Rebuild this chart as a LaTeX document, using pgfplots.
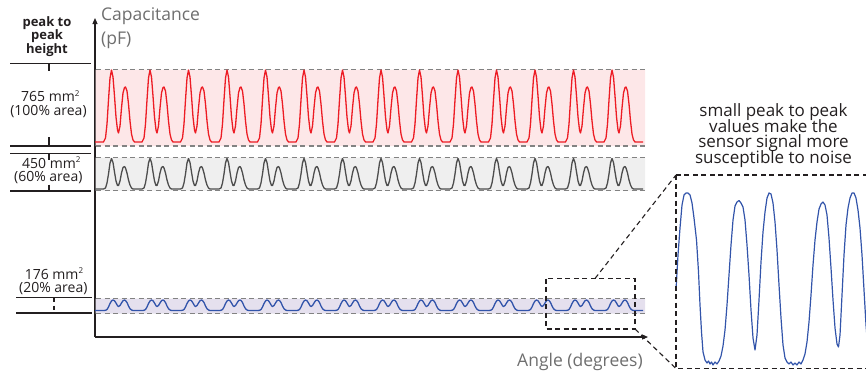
\documentclass[border=0pt]{standalone}
\usepackage{pgfplots}
\pgfplotsset{compat=1.18}
\usepackage{pgfplotstable}
\usepackage{fontspec}
\setmainfont{Open Sans}
\usetikzlibrary{arrows.meta}

\definecolor{redline}{RGB}{237,28,36}
\definecolor{redfill}{RGB}{253,231,232}
\definecolor{grayline}{RGB}{77,77,77}
\definecolor{grayfill}{RGB}{239,239,239}
\definecolor{blueline}{RGB}{50,84,170}
\definecolor{bluefill}{RGB}{229,224,238}
\definecolor{dashgray}{RGB}{130,130,130}
\definecolor{textgray}{RGB}{110,110,110}
\definecolor{ink}{RGB}{35,31,32}

% capacitance signals (x = angle position, y = capacitance level) for the three areas
\pgfplotstableread[row sep=\\]{
x red gray blue\\
95 233 186 64.5\\
103.5 233 186 64.5\\ 105.5 237 187 64.7\\ 107 251 192 65.5\\ 108.5 275 201 68\\ 110 297 212 71.5\\ 111.5 305 216.5 74\\ 113 298 212.5 75\\ 114.5 279 203 74.3\\ 116 258 194 72\\ 117.5 245 189.5 69.3\\ 118.5 242 189.5 68.5\\ 120 249 194 69.5\\ 121.5 267 202 72\\ 123 282 207.5 74.3\\ 124.5 287.5 208.5 75\\ 125.5 288 207 74.5\\ 127 284 202 72.5\\ 128.5 271 195 69\\ 130 254 190 66.3\\ 131.5 241 187 65\\ 133 235 186 64.5\\ 134.5 233 186 64.5\\
142 233 186 64.5\\ 144 237 187 64.7\\ 145.5 251 192 65.5\\ 147 275 201 68\\ 148.5 297 212 71.5\\ 150 305 216.5 74\\ 151.5 298 212.5 75\\ 153 279 203 74.3\\ 154.5 258 194 72\\ 156 245 189.5 69.3\\ 157 242 189.5 68.5\\ 158.5 249 194 69.5\\ 160 267 202 72\\ 161.5 282 207.5 74.3\\ 163 287.5 208.5 75\\ 164 288 207 74.5\\ 165.5 284 202 72.5\\ 167 271 195 69\\ 168.5 254 190 66.3\\ 170 241 187 65\\ 171.5 235 186 64.5\\ 173 233 186 64.5\\
180.5 233 186 64.5\\ 182.5 237 187 64.7\\ 184 251 192 65.5\\ 185.5 275 201 68\\ 187 297 212 71.5\\ 188.5 305 216.5 74\\ 190 298 212.5 75\\ 191.5 279 203 74.3\\ 193 258 194 72\\ 194.5 245 189.5 69.3\\ 195.5 242 189.5 68.5\\ 197 249 194 69.5\\ 198.5 267 202 72\\ 200 282 207.5 74.3\\ 201.5 287.5 208.5 75\\ 202.5 288 207 74.5\\ 204 284 202 72.5\\ 205.5 271 195 69\\ 207 254 190 66.3\\ 208.5 241 187 65\\ 210 235 186 64.5\\ 211.5 233 186 64.5\\
219 233 186 64.5\\ 221 237 187 64.7\\ 222.5 251 192 65.5\\ 224 275 201 68\\ 225.5 297 212 71.5\\ 227 305 216.5 74\\ 228.5 298 212.5 75\\ 230 279 203 74.3\\ 231.5 258 194 72\\ 233 245 189.5 69.3\\ 234 242 189.5 68.5\\ 235.5 249 194 69.5\\ 237 267 202 72\\ 238.5 282 207.5 74.3\\ 240 287.5 208.5 75\\ 241 288 207 74.5\\ 242.5 284 202 72.5\\ 244 271 195 69\\ 245.5 254 190 66.3\\ 247 241 187 65\\ 248.5 235 186 64.5\\ 250 233 186 64.5\\
257.5 233 186 64.5\\ 259.5 237 187 64.7\\ 261 251 192 65.5\\ 262.5 275 201 68\\ 264 297 212 71.5\\ 265.5 305 216.5 74\\ 267 298 212.5 75\\ 268.5 279 203 74.3\\ 270 258 194 72\\ 271.5 245 189.5 69.3\\ 272.5 242 189.5 68.5\\ 274 249 194 69.5\\ 275.5 267 202 72\\ 277 282 207.5 74.3\\ 278.5 287.5 208.5 75\\ 279.5 288 207 74.5\\ 281 284 202 72.5\\ 282.5 271 195 69\\ 284 254 190 66.3\\ 285.5 241 187 65\\ 287 235 186 64.5\\ 288.5 233 186 64.5\\
296 233 186 64.5\\ 298 237 187 64.7\\ 299.5 251 192 65.5\\ 301 275 201 68\\ 302.5 297 212 71.5\\ 304 305 216.5 74\\ 305.5 298 212.5 75\\ 307 279 203 74.3\\ 308.5 258 194 72\\ 310 245 189.5 69.3\\ 311 242 189.5 68.5\\ 312.5 249 194 69.5\\ 314 267 202 72\\ 315.5 282 207.5 74.3\\ 317 287.5 208.5 75\\ 318 288 207 74.5\\ 319.5 284 202 72.5\\ 321 271 195 69\\ 322.5 254 190 66.3\\ 324 241 187 65\\ 325.5 235 186 64.5\\ 327 233 186 64.5\\
334.5 233 186 64.5\\ 336.5 237 187 64.7\\ 338 251 192 65.5\\ 339.5 275 201 68\\ 341 297 212 71.5\\ 342.5 305 216.5 74\\ 344 298 212.5 75\\ 345.5 279 203 74.3\\ 347 258 194 72\\ 348.5 245 189.5 69.3\\ 349.5 242 189.5 68.5\\ 351 249 194 69.5\\ 352.5 267 202 72\\ 354 282 207.5 74.3\\ 355.5 287.5 208.5 75\\ 356.5 288 207 74.5\\ 358 284 202 72.5\\ 359.5 271 195 69\\ 361 254 190 66.3\\ 362.5 241 187 65\\ 364 235 186 64.5\\ 365.5 233 186 64.5\\
373 233 186 64.5\\ 375 237 187 64.7\\ 376.5 251 192 65.5\\ 378 275 201 68\\ 379.5 297 212 71.5\\ 381 305 216.5 74\\ 382.5 298 212.5 75\\ 384 279 203 74.3\\ 385.5 258 194 72\\ 387 245 189.5 69.3\\ 388 242 189.5 68.5\\ 389.5 249 194 69.5\\ 391 267 202 72\\ 392.5 282 207.5 74.3\\ 394 287.5 208.5 75\\ 395 288 207 74.5\\ 396.5 284 202 72.5\\ 398 271 195 69\\ 399.5 254 190 66.3\\ 401 241 187 65\\ 402.5 235 186 64.5\\ 404 233 186 64.5\\
411.5 233 186 64.5\\ 413.5 237 187 64.7\\ 415 251 192 65.5\\ 416.5 275 201 68\\ 418 297 212 71.5\\ 419.5 305 216.5 74\\ 421 298 212.5 75\\ 422.5 279 203 74.3\\ 424 258 194 72\\ 425.5 245 189.5 69.3\\ 426.5 242 189.5 68.5\\ 428 249 194 69.5\\ 429.5 267 202 72\\ 431 282 207.5 74.3\\ 432.5 287.5 208.5 75\\ 433.5 288 207 74.5\\ 435 284 202 72.5\\ 436.5 271 195 69\\ 438 254 190 66.3\\ 439.5 241 187 65\\ 441 235 186 64.5\\ 442.5 233 186 64.5\\
450 233 186 64.5\\ 452 237 187 64.7\\ 453.5 251 192 65.5\\ 455 275 201 68\\ 456.5 297 212 71.5\\ 458 305 216.5 74\\ 459.5 298 212.5 75\\ 461 279 203 74.3\\ 462.5 258 194 72\\ 464 245 189.5 69.3\\ 465 242 189.5 68.5\\ 466.5 249 194 69.5\\ 468 267 202 72\\ 469.5 282 207.5 74.3\\ 471 287.5 208.5 75\\ 472 288 207 74.5\\ 473.5 284 202 72.5\\ 475 271 195 69\\ 476.5 254 190 66.3\\ 478 241 187 65\\ 479.5 235 186 64.5\\ 481 233 186 64.5\\
488.5 233 186 64.5\\ 490.5 237 187 64.7\\ 492 251 192 65.5\\ 493.5 275 201 68\\ 495 297 212 71.5\\ 496.5 305 216.5 74\\ 498 298 212.5 75\\ 499.5 279 203 74.3\\ 501 258 194 72\\ 502.5 245 189.5 69.3\\ 503.5 242 189.5 68.5\\ 505 249 194 69.5\\ 506.5 267 202 72\\ 508 282 207.5 74.3\\ 509.5 287.5 208.5 75\\ 510.5 288 207 74.5\\ 512 284 202 72.5\\ 513.5 271 195 69\\ 515 254 190 66.3\\ 516.5 241 187 65\\ 518 235 186 64.5\\ 519.5 233 186 64.5\\
527 233 186 64.5\\ 529 237 187 64.7\\ 530.5 251 192 65.5\\ 532 275 201 68\\ 533.5 297 212 71.5\\ 535 305 216.5 74\\ 536.5 298 212.5 75\\ 538 279 203 74.3\\ 539.5 258 194 72\\ 541 245 189.5 69.3\\ 542 242 189.5 68.5\\ 543.5 249 194 69.5\\ 545 267 202 72\\ 546.5 282 207.5 74.3\\ 548 287.5 208.5 75\\ 549 288 207 74.5\\ 550.5 284 202 72.5\\ 552 271 195 69\\ 553.5 254 190 66.3\\ 555 241 187 65\\ 556.5 235 186 64.5\\ 558 233 186 64.5\\
565.5 233 186 64.5\\ 567.5 237 187 64.7\\ 569 251 192 65.5\\ 570.5 275 201 68\\ 572 297 212 71.5\\ 573.5 305 216.5 74\\ 575 298 212.5 75\\ 576.5 279 203 74.3\\ 578 258 194 72\\ 579.5 245 189.5 69.3\\ 580.5 242 189.5 68.5\\ 582 249 194 69.5\\ 583.5 267 202 72\\ 585 282 207.5 74.3\\ 586.5 287.5 208.5 75\\ 587.5 288 207 74.5\\ 589 284 202 72.5\\ 590.5 271 195 69\\ 592 254 190 66.3\\ 593.5 241 187 65\\ 595 235 186 64.5\\ 596.5 233 186 64.5\\
604 233 186 64.5\\ 606 237 187 64.7\\ 607.5 251 192 65.5\\ 609 275 201 68\\ 610.5 297 212 71.5\\ 612 305 216.5 74\\ 613.5 298 212.5 75\\ 615 279 203 74.3\\ 616.5 258 194 72\\ 618 245 189.5 69.3\\ 619 242 189.5 68.5\\ 620.5 249 194 69.5\\ 622 267 202 72\\ 623.5 282 207.5 74.3\\ 625 287.5 208.5 75\\ 626 288 207 74.5\\ 627.5 284 202 72.5\\ 629 271 195 69\\ 630.5 254 190 66.3\\ 632 241 187 65\\ 633.5 235 186 64.5\\ 635 233 186 64.5\\
643 233 186 64.5\\
}\signals

% zoomed (noisy) view of the 20% area signal
\pgfplotstableread[row sep=\\]{
x y\\
676 85\\ 678 120\\ 680 147\\ 682 170\\ 684 180\\ 686 182\\ 688 182\\ 690 180\\ 692 172\\ 694 157\\
696.5 135\\ 698.5 103\\ 700 70\\ 701.5 43\\ 703 23\\ 705 15\\ 707 12\\ 708.5 14\\ 710 11\\ 711.5 13\\
713 10\\ 715 13\\ 717 11\\ 719 14\\ 721 19\\ 723 29\\ 725 45\\ 727 70\\ 729 100\\ 731 130\\
733 155\\ 735 169\\ 737 173\\ 739 174.5\\ 741 172\\ 743 168\\ 745 155\\ 747 130\\ 749 100\\ 751 65\\
753 37\\ 755 25\\ 757 40\\ 759 75\\ 761 113\\ 763 143\\ 765 163\\ 767 177\\ 769 182\\ 771 181\\
773 172\\ 775 153\\ 777 125\\ 779 90\\ 781 57\\ 783 30\\ 785 17\\ 787 13\\ 789 11\\ 791 13\\
793 10\\ 795 12\\ 797 10\\ 799 13\\ 801 11\\ 803 15\\ 805 21\\ 807 33\\ 809 53\\ 811 80\\
813 110\\ 815 135\\ 817 153\\ 819 166\\ 821 171\\ 823 173\\ 825 170\\ 827 160\\ 829 137\\ 831 107\\
833 75\\ 835 47\\ 837 31\\ 838.5 28\\ 840 40\\ 842 80\\ 844 120\\ 846 150\\ 848 167\\ 850 177\\
852 182\\ 854 182\\ 856 177\\ 858 165\\ 860 147\\ 862 120\\ 864 85\\ 866 50\\ 868 25\\
}\insetdata

\newcommand{\sq}{\textsuperscript{\fontsize{8}{8}\selectfont 2}}

\begin{document}
\begin{tikzpicture}
\begin{axis}[
  at={(95pt,-337pt)}, anchor=south west, scale only axis,
  width=553pt, height=319pt,
  xmin=95, xmax=648, ymin=38, ymax=357,
  axis lines=left, xtick=\empty, ytick=\empty,
  axis line style={draw=ink, line width=1.1pt},
  every outer x axis line/.append style={-{Triangle[length=6pt,width=5pt]}},
  every outer y axis line/.append style={-{Triangle[length=6pt,width=5pt]}},
  clip=false,
]
% bands
\addplot[draw=none, fill=redfill] coordinates {(95.6,229) (645,229) (645,305.5) (95.6,305.5) (95.6,229)};
\addplot[draw=none, fill=grayfill] coordinates {(95.6,184.3) (645,184.3) (645,217.5) (95.6,217.5) (95.6,184.3)};
\addplot[draw=none, fill=bluefill] coordinates {(95.6,61.5) (645,61.5) (645,76.5) (95.6,76.5) (95.6,61.5)};
% dashed band limits
\addplot[dashgray, line width=1.1pt, dash pattern=on 5pt off 3.5pt] coordinates {(96,305.5) (645,305.5)};
\addplot[dashgray, line width=1.1pt, dash pattern=on 5pt off 3.5pt] coordinates {(96,229) (645,229)};
\addplot[dashgray, line width=1.1pt, dash pattern=on 5pt off 3.5pt] coordinates {(96,217.5) (645,217.5)};
\addplot[dashgray, line width=1.1pt, dash pattern=on 5pt off 3.5pt] coordinates {(96,184.3) (645,184.3)};
\addplot[dashgray, line width=1.1pt, dash pattern=on 5pt off 3.5pt] coordinates {(96,76.5) (645,76.5)};
\addplot[dashgray, line width=1.1pt, dash pattern=on 5pt off 3.5pt] coordinates {(96,61.5) (645,61.5)};
% signals
\addplot[redline, line width=1.3pt, line join=round] table[x=x, y=red]{\signals};
\addplot[grayline, line width=1.3pt, line join=round] table[x=x, y=gray]{\signals};
\addplot[blueline, line width=1.3pt, line join=round] table[x=x, y=blue]{\signals};
\end{axis}

\begin{axis}[
  at={(676pt,-368.5pt)}, anchor=south west, scale only axis,
  width=200pt, height=193.5pt,
  xmin=676, xmax=876, ymin=6.5, ymax=200,
  hide axis, clip=false,
]
\addplot[blueline, line width=1.2pt, line join=round] table[x=x, y=y]{\insetdata};
\end{axis}

\begin{scope}[x=1pt, y=-1pt]
  % axis titles
  \node[anchor=base west, inner sep=0, text=textgray, font=\fontsize{17.5}{20}\selectfont] at (101,20.5) {Capacitance};
  \node[anchor=base west, inner sep=0, text=textgray, font=\fontsize{17.5}{20}\selectfont] at (101,44.5) {(pF)};
  \node[anchor=base west, inner sep=0, text=textgray, font=\fontsize{17.5}{20}\selectfont] at (517,366.5) {Angle (degrees)};
  % left scale bars
  \draw[ink, line width=1.2pt] (10,63.3) -- (91,63.3) (49,63.3) -- (49,70.5);
  \draw[ink, line width=1.2pt] (10,146) -- (91,146) (49,137) -- (49,146);
  \draw[ink, line width=1.2pt] (10,153.3) -- (91,153.3) (49,153.3) -- (49,160);
  \draw[ink, line width=1.2pt] (10,191) -- (91,191) (49,184.5) -- (49,191);
  \draw[ink, line width=1.2pt] (16,297.5) -- (92,297.5) (16,313) -- (92,313);
  \draw[ink, line width=1.2pt, dash pattern=on 4pt off 4pt] (54,297.5) -- (54,313);
  % left labels
  \node[anchor=base, inner sep=0, text=ink, font=\bfseries\fontsize{13}{14}\selectfont] at (47,26) {peak to};
  \node[anchor=base, inner sep=0, text=ink, font=\bfseries\fontsize{13}{14}\selectfont] at (47,39.5) {peak};
  \node[anchor=base, inner sep=0, text=ink, font=\bfseries\fontsize{13}{14}\selectfont] at (47,53) {height};
  \node[anchor=base, inner sep=0, text=ink, font=\fontsize{14}{16}\selectfont] at (50.5,101.5) {765 mm\sq};
  \node[anchor=base, inner sep=0, text=ink, font=\fontsize{14}{16}\selectfont] at (48.5,115) {(100\% area)};
  \node[anchor=base, inner sep=0, text=ink, font=\fontsize{14}{16}\selectfont] at (51.5,168) {450 mm\sq};
  \node[anchor=base, inner sep=0, text=ink, font=\fontsize{14}{16}\selectfont] at (48.3,181.5) {(60\% area)};
  \node[anchor=base, inner sep=0, text=ink, font=\fontsize{14}{16}\selectfont] at (54.2,279) {176 mm\sq};
  \node[anchor=base, inner sep=0, text=ink, font=\fontsize{14}{16}\selectfont] at (53.3,292) {(20\% area)};
  % zoom indication
  \draw[ink, line width=1.1pt, dash pattern=on 5pt off 3.5pt] (546,278.5) rectangle (635,329);
  \draw[ink, line width=1.1pt, dash pattern=on 5pt off 3.5pt] (595,278.5) -- (676,175);
  \draw[ink, line width=1.1pt, dash pattern=on 5pt off 3.5pt] (635,329) -- (676,368.5);
  \draw[ink, line width=1.1pt, dash pattern=on 5pt off 3.5pt] (676,175) rectangle (880,368.5);
  % inset caption
  \node[anchor=base, inner sep=0, text=ink, font=\fontsize{17}{18}\selectfont] at (773.5,116.5) {small peak to peak};
  \node[anchor=base, inner sep=0, text=ink, font=\fontsize{17}{18}\selectfont] at (773.5,132) {values make the};
  \node[anchor=base, inner sep=0, text=ink, font=\fontsize{17}{18}\selectfont] at (773.5,147.5) {sensor signal more};
  \node[anchor=base, inner sep=0, text=ink, font=\fontsize{17}{18}\selectfont] at (773.5,163) {susceptible to noise};
\end{scope}
\pgfresetboundingbox
\path[use as bounding box] (0pt,0pt) rectangle (866pt,-375pt);
\end{tikzpicture}
\end{document}
